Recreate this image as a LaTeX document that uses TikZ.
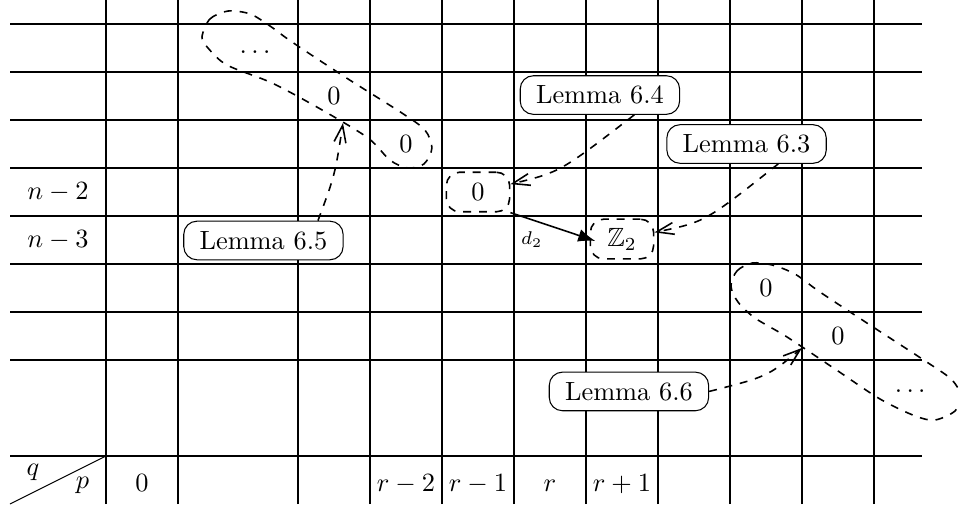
\documentclass[tikz,border=0pt]{standalone}
\usepackage{amsmath}
\usepackage{amssymb}
\usetikzlibrary{arrows.meta}

\begin{document}
\begin{tikzpicture}[x=0.32cm, y=0.32cm,
    gridline/.style={line width=0.8pt},
    lemma/.style={draw, thin, fill=white, rounded corners=5pt, inner xsep=6pt, inner ysep=3.8pt},
    hilite/.style={draw, dashed, semithick, rounded corners=5pt, minimum width=24pt, minimum height=15pt},
    blob/.style={draw, dashed, semithick},
    cite/.style={-{Straight Barb[length=6.5pt,width=4.5pt]}, dashed, semithick}]
    \useasboundingbox (-0.4167,-0.3333) rectangle (39.5417,21);

    % the grid
    \foreach \x in {4,7,12,15,18,21,24,27,30,33,36} {
        \draw[gridline] (\x,0) -- (\x,21);
    }
    \foreach \y in {2,6,8,10,12,14,16,18,20} {
        \draw[gridline] (0,\y) -- (38,\y);
    }
    \draw[thin] (0,0) -- (4,2);
    \node (q) at (0.96,1.33) {$q$};
    \node (p) at (3.02,0.77) {$p$};

    \node (rowa) at (2,13) {$n-2$};
    \node (rowb) at (2,11) {$n-3$};
    \foreach \x/\lab [count=\i] in {5.5/0, 16.5/r-2, 19.5/r-1, 22.5/r, 25.5/r+1} {
        \node[anchor=base] (col\i) at (\x,0.52) {$\lab$};
    }

    % entries
    \node (dotsA) at (10.3,18.83) {$\dots$};
    \node (zeroA) at (13.5,17) {$0$};
    \node (zeroB) at (16.5,15) {$0$};
    \node[hilite] (zero) at (19.5,13) {$0$};
    \node[hilite, minimum height=14.4pt] (ztwo) at (25.5,11.04) {$\mathbb{Z}_2$};
    \node (zeroC) at (31.5,9) {$0$};
    \node (zeroD) at (34.5,7) {$0$};
    \node (dotsB) at (37.6,4.71) {$\dots$};

    % the two diagonals
    \draw[blob] plot[smooth cycle] coordinates {(8.0,19.46) (8.33,20.21) (9.08,20.54) (10.0,20.42)
        (10.83,19.92) (11.75,19.25) (13.96,17.79) (16.33,16.29) (17.29,15.58) (17.58,14.83)
        (17.25,14.17) (16.58,14.0) (15.83,14.33) (14.92,15.25) (13.0,16.42) (10.92,17.54)
        (9.04,18.29) (8.25,19.0)};
    \draw[blob] plot[smooth cycle] coordinates {(30.04,9.08) (30.29,9.71) (30.92,10.04) (31.75,9.96)
        (32.71,9.58) (33.75,8.83) (35.83,7.46) (38.33,5.83) (39.25,5.17) (39.625,4.5)
        (39.375,3.875) (38.54,3.5) (37.71,3.67) (36.25,4.375) (34.375,5.625) (32.375,6.96)
        (31.04,7.75) (30.33,8.42)};
    \coordinate (tipA) at (13.875,15.875);
    \coordinate (tipB) at (33.0,6.5);

    \node[lemma] (lsfour) at (24.58,17.04) {Lemma 6.4};
    \node[lemma] (lsthree) at (30.69,15) {Lemma 6.3};
    \node[lemma] (lsfive) at (10.56,10.98) {Lemma 6.5};
    \node[lemma] (lssix) at (25.79,4.69) {Lemma 6.6};

    \draw[-{Latex[length=6.5pt]}, semithick, shorten >=-2.3pt] (zero.south east) -- (ztwo.west)
        node[pos=0.27, below=1pt, font=\scriptsize] (dtwo) {$d_2$};
    \draw[cite] (lsfour.-30) .. controls (22.92,13.83) .. (zero);
    \draw[cite] (lsthree.-32) .. controls (28.96,11.75) .. (ztwo);
    \draw[cite] (lsfive.20) .. controls (13.54,13.71) .. (tipA);
    \draw[cite] (lssix.east) .. controls (31.56,5.31) .. (tipB);
\end{tikzpicture}
\end{document}
